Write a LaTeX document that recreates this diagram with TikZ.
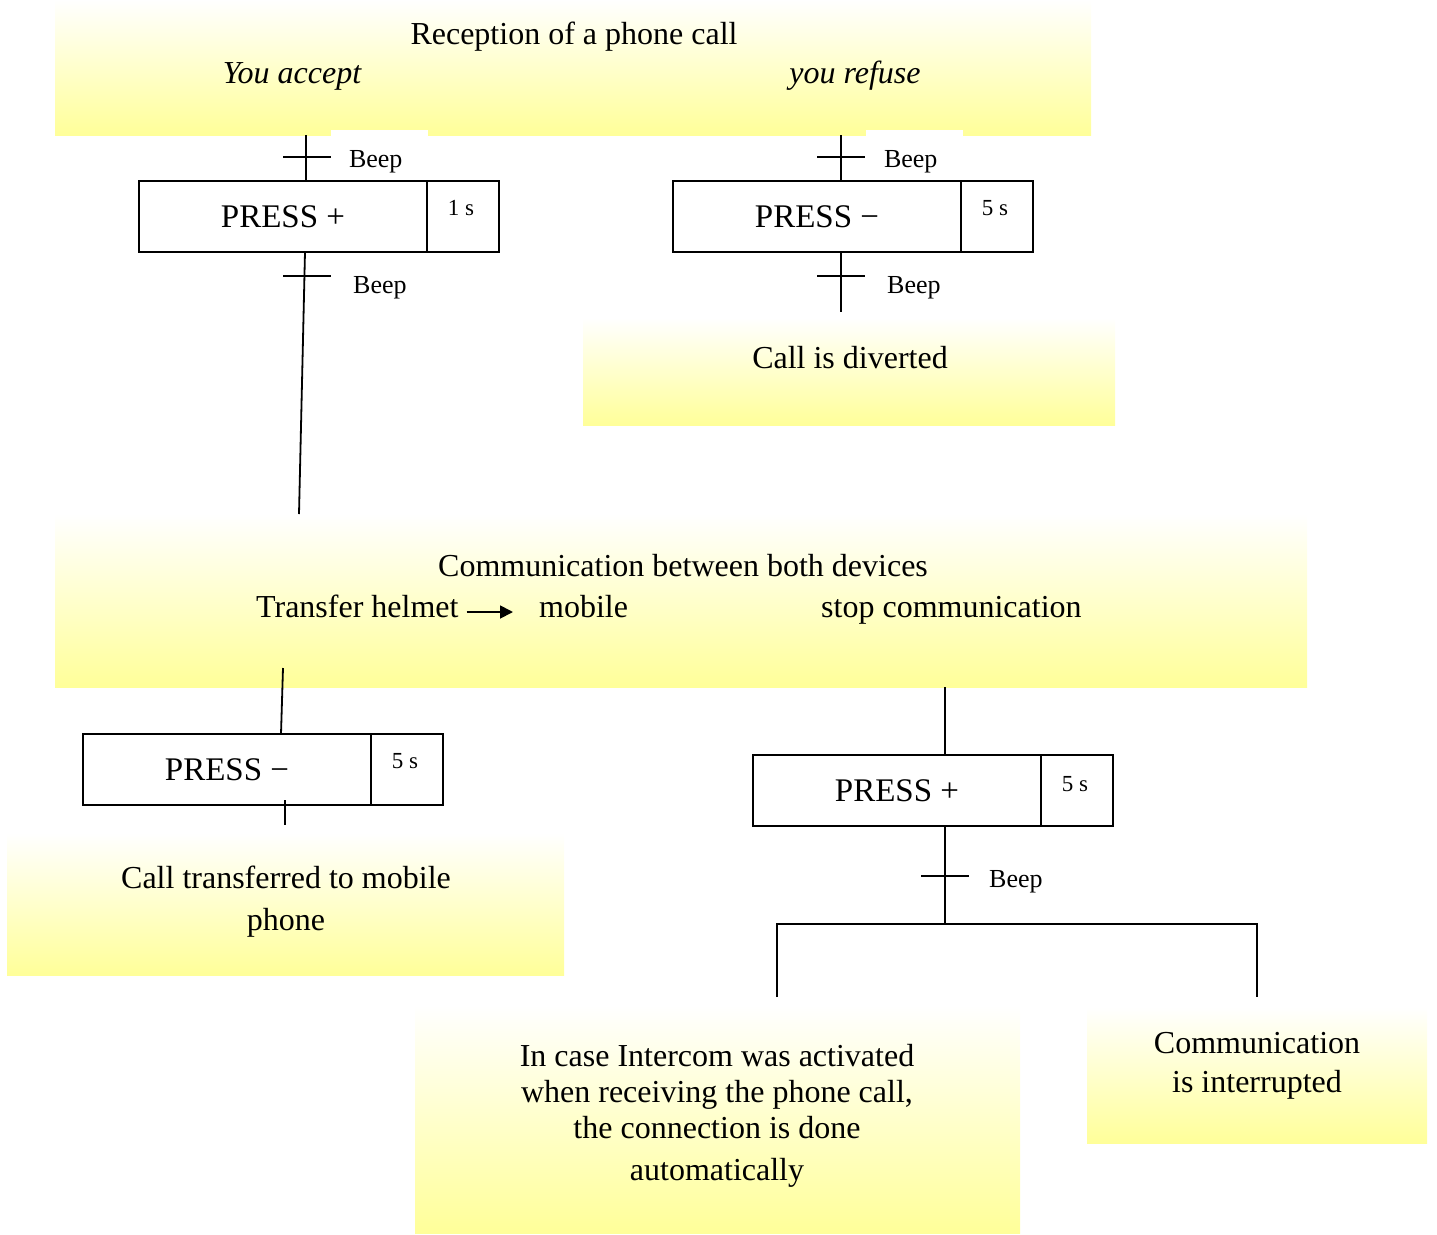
\documentclass[tikz,border=0pt]{standalone}
\usepackage{fontspec}
\setmainfont{Liberation Serif}
\usetikzlibrary{arrows.meta}
\definecolor{ylw}{RGB}{255,255,153}
\newcommand\mainfs{\fontsize{32}{36}\selectfont}
\newcommand\boxfs{\fontsize{33}{38}\selectfont}
\newcommand\beepfs{\fontsize{26}{30}\selectfont}
\newcommand\timefs{\fontsize{23}{26}\selectfont}
\tikzset{
  ybox/.style={rectangle, draw=none, inner sep=0pt, outer sep=0pt, top color=white, bottom color=ylw, anchor=north west},
  txt/.style={inner sep=0pt, font=\mainfs},
  mtxt/.style={inner sep=0pt, font=\mainfs, align=center, anchor=base},
  stepbox/.style={rectangle, draw, line width=1.8pt, inner sep=0pt, outer sep=0pt, minimum width=288pt, minimum height=71pt, anchor=north west, font=\boxfs},
  timebox/.style={rectangle, draw, line width=1.8pt, inner sep=0pt, outer sep=0pt, minimum width=72pt, minimum height=71pt, anchor=north west},
  timelbl/.style={inner sep=0pt, font=\timefs, anchor=base},
  beeplbl/.style={inner sep=0pt, font=\beepfs, anchor=base west},
  beepwhite/.style={fill=white, font=\beepfs, anchor=north west, inner xsep=18pt, inner ysep=0pt, outer sep=0pt, text width=61pt, align=left, minimum height=64pt},
  conn/.style={line width=1.8pt},
  tickbar/.style={line width=1.8pt},
}
\begin{document}
\begin{tikzpicture}[x=1pt,y=-1pt]
\useasboundingbox (0,0) rectangle (1437,1234);

% yellow shaded areas
\node[ybox, minimum width=1036pt, minimum height=135pt] (top) at (55,0) {};
\node[ybox, minimum width=532pt, minimum height=107pt] (div) at (583,318) {};
\node[ybox, minimum width=1252pt, minimum height=173pt] (comm) at (55,514) {};
\node[ybox, minimum width=557pt, minimum height=142pt] (trf) at (7,833) {};
\node[ybox, minimum width=605pt, minimum height=228pt] (icom) at (415,1005) {};
\node[ybox, minimum width=340pt, minimum height=136pt] (intr) at (1087,1007) {};

% texts in yellow areas
\node[txt, anchor=base] (rec) at (574,44) {Reception of a phone call};
\node[txt, anchor=base, font=\mainfs\itshape] (acc) at (292,83) {You accept};
\node[txt, anchor=base, font=\mainfs\itshape] (ref) at (855,83) {you refuse};
\node[txt, anchor=base] (divt) at (850,368) {Call is diverted};
\node[txt, anchor=base] (commt) at (683,576) {Communication between both devices};
\node[txt, anchor=base west] (th) at (256,617) {Transfer helmet};
\node[txt, anchor=base west] (mob) at (539,617) {mobile};
\node[txt, anchor=base west] (stop) at (821,617) {stop communication};
\draw[conn, -{Triangle[length=13pt,width=13pt]}] ([xshift=8pt,yshift=5pt]th.base east) -- ([xshift=-26pt,yshift=5pt]mob.base west);
\node[mtxt] (trft) at (286,930) {Call transferred to mobile\\[6pt]phone};
\node[mtxt] (icomt) at (717,1180) {In case Intercom was activated\\when receiving the phone call,\\the connection is done\\[6pt]automatically};
\node[mtxt] (intrt) at (1257,1092) {Communication\\[3pt]is interrupted};

% white-backed beep labels at the top
\node[beepwhite] (b1) at (331,130) {Beep};
\node[beepwhite] (b2) at (866,130) {Beep};

% coordinates of the vertical links
\coordinate (xl) at (306,0);
\coordinate (xr) at (841,0);
\coordinate (xb) at (945,0);

% step boxes
\node[stepbox] (s1) at (139,181) {PRESS +};
\node[timebox] (t1) at (s1.north east) {};
\node[timelbl] at ([xshift=-2pt,yshift=-34pt]t1.north) {1 s};

\node[stepbox] (s2) at (673,181) {PRESS −};
\node[timebox] (t2) at (s2.north east) {};
\node[timelbl] at ([xshift=-2pt,yshift=-34pt]t2.north) {5 s};

\node[stepbox] (s3) at (83,734) {PRESS −};
\node[timebox] (t3) at (s3.north east) {};
\node[timelbl] at ([xshift=-2pt,yshift=-34pt]t3.north) {5 s};

\node[stepbox] (s4) at (753,755) {PRESS +};
\node[timebox] (t4) at (s4.north east) {};
\node[timelbl] at ([xshift=-2pt,yshift=-36pt]t4.north) {5 s};

% left branch
\draw[conn] (top.south -| xl) -- (s1.north -| xl);
\coordinate (k1) at (306,157);
\draw[tickbar] ([xshift=-23pt]k1) -- ([xshift=25pt]k1);
\coordinate (l1) at (305,0);
\coordinate (l2) at (299,0);
\draw[conn] (s1.south -| l1) -- (comm.north -| l2);
\coordinate (k2) at (305,276);
\draw[tickbar] ([xshift=-22pt]k2) -- ([xshift=26pt]k2);
\node[beeplbl] (b3) at (353,293) {Beep};

% right branch
\draw[conn] (top.south -| xr) -- (s2.north -| xr);
\coordinate (k3) at (841,157);
\draw[tickbar] ([xshift=-24pt]k3) -- ([xshift=24pt]k3);
\coordinate (e2) at (841,312);
\draw[conn] (s2.south -| xr) -- (e2);
\coordinate (k4) at (841,276);
\draw[tickbar] ([xshift=-24pt]k4) -- ([xshift=24pt]k4);
\node[beeplbl] (b4) at (887,293) {Beep};

% lower left
\coordinate (c1) at (283,668);
\coordinate (x3) at (281,0);
\draw[conn] (c1) -- (s3.north -| x3);
\coordinate (c2) at (285,800);
\coordinate (c3) at (285,825);
\draw[conn] (c2) -- (c3);

% lower right
\draw[conn] (comm.south -| xb) -- (s4.north -| xb);
\coordinate (fk) at (945,924);
\draw[conn] (s4.south -| xb) -- (fk);
\coordinate (k5) at (945,876);
\draw[tickbar] ([xshift=-24pt]k5) -- ([xshift=24pt]k5);
\node[beeplbl] (b5) at (989,887) {Beep};
\coordinate (fl) at (777,924);
\coordinate (fr) at (1257,924);
\coordinate (fle) at (777,997);
\coordinate (fre) at (1257,997);
\draw[conn] (fle) -- (fl) -- (fr) -- (fre);
\end{tikzpicture}
\end{document}
